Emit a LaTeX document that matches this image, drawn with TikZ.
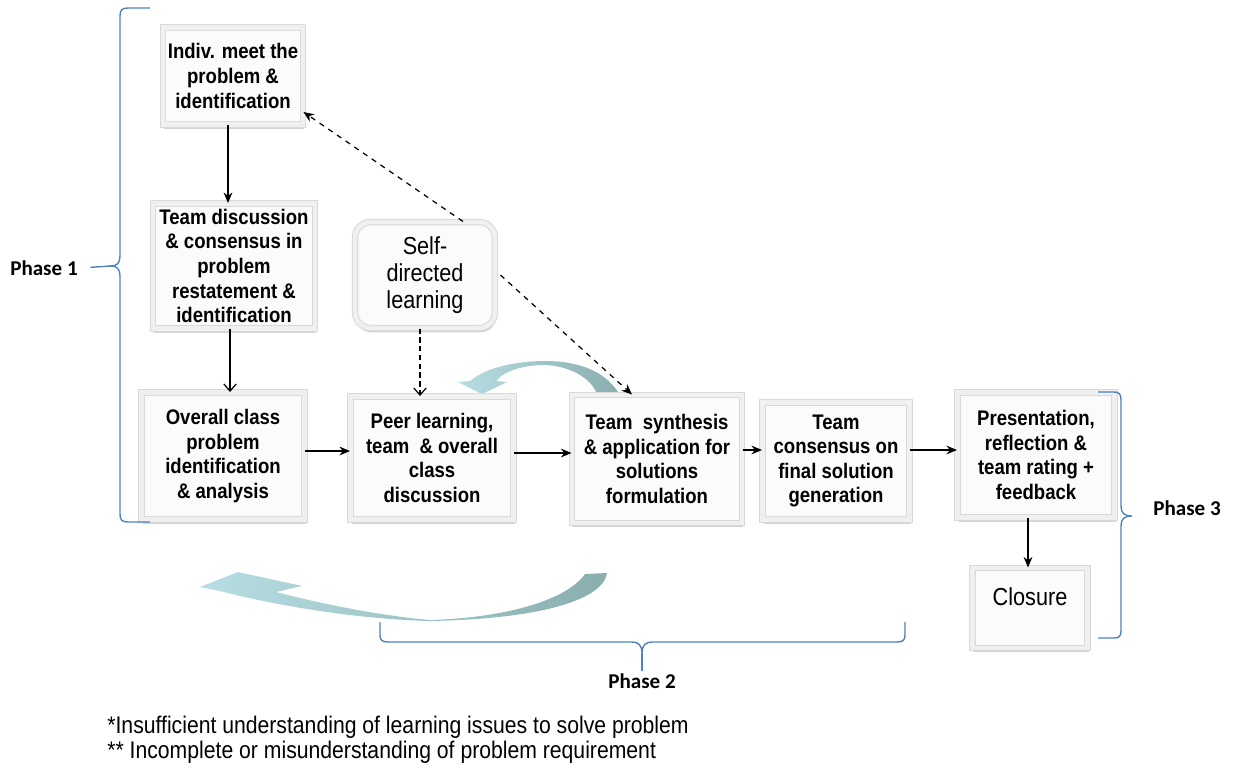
\documentclass[tikz,border=0pt]{standalone}
\usepackage{fontspec}
\setmainfont{Liberation Sans}
\newfontfamily\boxfont[FakeStretch=0.88]{Liberation Sans}
\newfontfamily\phasefont{Carlito}
\usetikzlibrary{arrows.meta,shadows}

\definecolor{bracecol}{RGB}{79,129,189}
\definecolor{arclight}{RGB}{183,222,228}
\definecolor{arcdark}{RGB}{138,174,174}

\begin{document}
\begin{tikzpicture}[x=0.02cm, y=-0.02cm,
	stepbox/.style={draw=gray!30, double=gray!12, double distance=2.5pt, line width=0.6pt,
		fill=gray!3, drop shadow={opacity=0.35, shadow xshift=0.6pt, shadow yshift=-2.5pt},
		align=center, inner sep=1pt, font={\boxfont\bfseries\fontsize{12}{14}\selectfont}},
	softbox/.style={stepbox, rounded corners=9pt, font={\boxfont\fontsize{14}{15.5}\selectfont}},
	phasebrace/.style={draw=bracecol, line width=0.8pt},
	phaselabel/.style={font={\phasefont\bfseries\fontsize{12}{14}\selectfont}, inner sep=1pt},
	notetext/.style={anchor=west, inner sep=0pt, font={\boxfont\fontsize{13.7}{15}\selectfont}},
	flow/.style={draw, line width=0.7pt, -{Stealth[length=6pt, width=5pt]}},
	openflow/.style={draw, line width=0.7pt, -{Straight Barb[length=4pt, width=7pt]}},
	arcfill/.style={left color=arclight, right color=arcdark}]

% frame %{{{2

	\useasboundingbox (0,0) rectangle (1237,769);

% curved arrows %{{{2

	\path[arcfill] (200,587) -- (238,572) -- (302,586) -- (276,592)
		.. controls (330,606) and (385,616) .. (430,620)
		.. controls (500,618) and (565,602) .. (585,574) -- (607,573)
		.. controls (603,600) and (540,619) .. (430,621)
		.. controls (350,619) and (265,603) .. (220,591) -- cycle;

	\path[arcfill] (458,382) -- (482,394) -- (507,382) -- (496,381)
		.. controls (505,370) and (525,365) .. (545,365)
		.. controls (570,366) and (590,378) .. (596,392) -- (618,392)
		.. controls (605,372) and (580,361) .. (545,361)
		.. controls (515,361) and (485,368) .. (470,381) -- cycle;

% boxes %{{{2

	\node[stepbox, minimum width=2.8cm, minimum height=1.94cm] (indiv) at (233,76)
		{Indiv. meet the\\problem \&\\identification};
	\node[stepbox, minimum width=3.24cm, minimum height=2.5cm] (teamdisc) at (234,266)
		{Team discussion\\\& consensus in\\problem\\restatement \&\\identification};
	\node[softbox, minimum width=2.8cm, minimum height=2.12cm] (selfdir) at (425,275)
		{Self-\\directed\\learning};
	\node[stepbox, minimum width=3.26cm, minimum height=2.54cm] (overall) at (223,456)
		{Overall class\\problem\\identification\\\& analysis};
	\node[stepbox, minimum width=3.26cm, minimum height=2.46cm] (peer) at (432,458)
		{Peer learning,\\team~~\& overall\\class\\discussion};
	\node[stepbox, minimum width=3.4cm, minimum height=2.56cm] (synth) at (657,459)
		{Team~~synthesis\\\& application for\\solutions\\formulation};
	\node[stepbox, minimum width=2.94cm, minimum height=2.34cm] (consensus) at (836,461)
		{Team\\consensus on\\final solution\\generation};
	\node[stepbox, minimum width=3.14cm, minimum height=2.5cm] (present) at (1036,455)
		{Presentation,\\reflection \&\\team rating +\\feedback};
	\node[stepbox, minimum width=2.3cm, minimum height=1.6cm, text depth=0.45cm,
		font={\boxfont\fontsize{14}{15.5}\selectfont}] (closure) at (1030,608)
		{Closure};

% connectors %{{{2

	\draw[flow] ([xshift=-0.1cm]indiv.south) -- ([xshift=-0.1cm]indiv.south |- teamdisc.north);
	\draw[openflow] ([xshift=-0.08cm]teamdisc.south) -- ([xshift=-0.08cm]teamdisc.south |- overall.north);
	\draw[openflow, densely dashed] ([xshift=-0.1cm]selfdir.south) -- ([xshift=-0.1cm]selfdir.south |- peer.north);

	\draw[flow, dashed] ([xshift=0.76cm]selfdir.north) -- ([yshift=0.26cm]indiv.south east);
	\draw[flow, dashed] ([xshift=0.1cm]selfdir.east) -- ([xshift=-0.5cm]synth.north);

	\draw[flow] ([yshift=0.1cm]overall.east) -- ([yshift=0.1cm]overall.east -| peer.west);
	\draw[flow] ([yshift=0.1cm]peer.east) -- ([yshift=0.1cm]peer.east -| synth.west);
	\draw[flow] ([yshift=0.18cm]synth.east) -- ([yshift=0.18cm]synth.east -| consensus.west);
	\draw[flow] ([yshift=0.22cm]consensus.east) -- ([yshift=0.22cm]consensus.east -| present.west);
	\draw[flow] ([xshift=-0.16cm]present.south) -- ([xshift=-0.16cm]present.south |- closure.north);

% phase braces %{{{2

	\coordinate (tipone) at (111,266);
	\coordinate (tiptwo) at (642,653);
	\coordinate (tipthree) at (1132,516);

	\draw[phasebrace] (150,8) -- (128,8) .. controls (122,8) and (120,10) .. (120,16)
		-- (120,256) .. controls (120,263) and (117,266) .. (tipone)
		.. controls (117,266) and (120,269) .. (120,276)
		-- (120,514) .. controls (120,520) and (122,522) .. (128,522) -- (150,522);

	\draw[phasebrace] (380,622) -- (380,635) .. controls (380,640) and (382,642) .. (388,642)
		-- (632,642) .. controls (638,642) and (642,645) .. (tiptwo)
		.. controls (642,645) and (646,642) .. (652,642)
		-- (897,642) .. controls (903,642) and (905,640) .. (905,635) -- (905,622);

	\draw[phasebrace] (1098,392) -- (1114,392) .. controls (1119,392) and (1121,394) .. (1121,400)
		-- (1121,506) .. controls (1121,513) and (1124,516) .. (tipthree)
		.. controls (1124,516) and (1121,519) .. (1121,526)
		-- (1121,631) .. controls (1121,636) and (1119,638) .. (1114,638) -- (1098,638);

% phase labels %{{{2

	\node[phaselabel] (phaseone) at (44,268) {Phase 1};
	\node[phaselabel] (phasetwo) at (642,681) {Phase 2};
	\node[phaselabel] (phasethree) at (1187,508) {Phase 3};

	\draw[phasebrace, shorten <=6pt] (phaseone.east) -- (tipone);
	\draw[phasebrace] (tiptwo) -- (phasetwo.north);

% notes %{{{2

	\node[notetext] (noteone) at (107,727)
		{*Insufficient understanding of learning issues to solve problem};
	\node[notetext] (notetwo) at (107,752)
		{** Incomplete or misunderstanding of problem requirement};

% closing %{{{2

\end{tikzpicture}
\end{document}
